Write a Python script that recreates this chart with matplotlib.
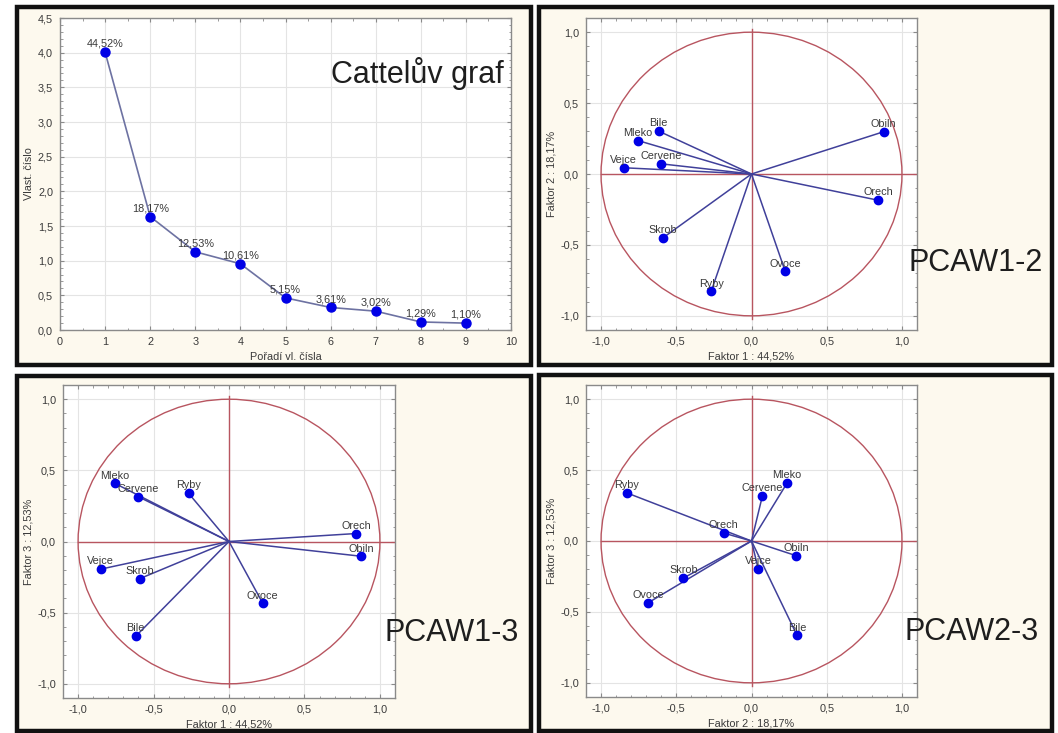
import matplotlib
matplotlib.use("Agg")
import matplotlib.pyplot as plt
from matplotlib.patches import Rectangle, Circle
from matplotlib.ticker import MultipleLocator, FuncFormatter

plt.rcParams["font.family"] = ["Liberation Sans", "DejaVu Sans"]

# --- data -----------------------------------------------------------------
n_vars = 9
component_order = [1, 2, 3, 4, 5, 6, 7, 8, 9]
explained_pct = [44.52, 18.17, 12.53, 10.61, 5.15, 3.61, 3.02, 1.29, 1.10]

variables = ["Bile", "Mleko", "Cervene", "Vejce", "Obiln",
             "Orech", "Skrob", "Ovoce", "Ryby"]
factor1 = [-0.618, -0.755, -0.603, -0.849, 0.878, 0.842, -0.591, 0.224, -0.268]
factor2 = [0.303, 0.236, 0.072, 0.044, 0.298, -0.185, -0.452, -0.686, -0.828]
factor3 = [-0.666, 0.408, 0.316, -0.194, -0.104, 0.056, -0.261, -0.435, 0.339]

# --- style ----------------------------------------------------------------
W, H = 1058, 733
CREAM = "#fdf9ee"
TXT = "#3a3a3a"
SPINE = "#8a8a8a"
GRID = "#e4e4e4"
RED = "#b85560"
VEC = "#40409a"
DOT = "#0000e6"
FS = 7.8

fig = plt.figure(figsize=(W / 100, H / 100), dpi=100)
fig.patch.set_facecolor("white")


def px_rect(x0, y0, x1, y1):
    return [x0 / W, 1 - y1 / H, (x1 - x0) / W, (y1 - y0) / H]


def box(x0, y0, x1, y1):
    l, b, w, h = px_rect(x0, y0, x1, y1)
    fig.patches.append(Rectangle((l, b), w, h, transform=fig.transFigure,
                                 facecolor=CREAM, edgecolor="#111111",
                                 linewidth=3.2, zorder=-5))


def comma(fmt):
    return FuncFormatter(lambda v, p: fmt.format(v).replace(".", ","))


def style_axes(ax, major_x, major_y, minor_x, minor_y, xfmt, yfmt):
    ax.set_facecolor("white")
    for s in ax.spines.values():
        s.set_color(SPINE)
        s.set_linewidth(1.0)
    ax.xaxis.set_major_locator(MultipleLocator(major_x))
    ax.yaxis.set_major_locator(MultipleLocator(major_y))
    ax.xaxis.set_minor_locator(MultipleLocator(minor_x))
    ax.yaxis.set_minor_locator(MultipleLocator(minor_y))
    ax.xaxis.set_major_formatter(xfmt)
    ax.yaxis.set_major_formatter(yfmt)
    ax.tick_params(which="both", direction="in", top=True, right=True,
                   color=SPINE, labelsize=FS, labelcolor=TXT)
    ax.tick_params(which="major", length=3, width=0.8, pad=5)
    ax.tick_params(which="minor", length=1.8, width=0.6)
    ax.grid(True, which="major", color=GRID, linewidth=0.8)
    ax.set_axisbelow(True)


# --- panel frames -----------------------------------------------------------
box(17, 7, 531, 365)
box(539, 7, 1052, 365)
box(17, 376, 531, 731)
box(539, 375, 1052, 731)

# --- scree plot ---------------------------------------------------------------
eigenvalues = [p * n_vars / 100 for p in explained_pct]
ax1 = fig.add_axes(px_rect(60, 18, 511, 330))
style_axes(ax1, 1, 0.5, 0.5, 0.1, comma("{:.0f}"), comma("{:.1f}"))
ax1.set_xlim(0, 10)
ax1.set_ylim(0, 4.5)
ax1.plot(component_order, eigenvalues, color="#6d72a2", linewidth=1.2,
         marker="o", markersize=6.5, markerfacecolor=DOT,
         markeredgecolor=DOT, zorder=3)
for x, y, p in zip(component_order, eigenvalues, explained_pct):
    ax1.annotate(f"{p:.2f}%".replace(".", ","), (x, y), xytext=(0, 2.5),
                 textcoords="offset points", ha="center", va="bottom",
                 fontsize=FS, color=TXT)
ax1.set_xlabel("Pořadí vl. čísla", fontsize=FS, color=TXT, labelpad=3.5)
ax1.set_ylabel("Vlast. číslo", fontsize=FS, color=TXT, labelpad=2.5)
fig.text(417 / W, 1 - 73 / H, "Cattelův graf", fontsize=22,
         color="#1e1e1e", ha="center", va="center")


# --- factor loading plots ---------------------------------------------------
def loading_plot(rect, xs, ys, xlabel, ylabel, title, title_xy):
    ax = fig.add_axes(px_rect(*rect))
    style_axes(ax, 0.5, 0.5, 0.1, 0.1, comma("{:.1f}"), comma("{:.1f}"))
    ax.set_xlim(-1.1, 1.1)
    ax.set_ylim(-1.1, 1.1)
    ax.add_patch(Circle((0, 0), 1.0, fill=False, edgecolor=RED,
                        linewidth=1.0, zorder=2))
    ax.plot([-1.0, 1.1], [0, 0], color=RED, linewidth=1.0, zorder=2)
    ax.plot([0, 0], [-1.02, 1.02], color=RED, linewidth=1.0, zorder=2)
    for name, x, y in zip(variables, xs, ys):
        ax.plot([0, x], [0, y], color=VEC, linewidth=1.1, zorder=3)
        ax.plot(x, y, "o", color=DOT, markersize=6, zorder=4)
        ax.annotate(name, (x, y), xytext=(0, 2), textcoords="offset points",
                    ha="center", va="bottom", fontsize=FS, color=TXT,
                    zorder=5)
    ax.set_xlabel(xlabel, fontsize=FS, color=TXT, labelpad=3.5)
    ax.set_ylabel(ylabel, fontsize=FS, color=TXT, labelpad=3)
    fig.text(title_xy[0] / W, 1 - title_xy[1] / H, title, fontsize=22,
             color="#1e1e1e", ha="center", va="center")
    return ax


loading_plot((586, 18, 917, 330), factor1, factor2,
             "Faktor 1 : 44,52%", "Faktor 2 : 18,17%", "PCAW1-2", (976, 263))
loading_plot((63, 385, 395, 698), factor1, factor3,
             "Faktor 1 : 44,52%", "Faktor 3 : 12,53%", "PCAW1-3", (452, 633))
loading_plot((586, 385, 917, 697), factor2, factor3,
             "Faktor 2 : 18,17%", "Faktor 3 : 12,53%", "PCAW2-3", (972, 632))

fig.savefig("out.png", dpi=100, facecolor=fig.get_facecolor())
